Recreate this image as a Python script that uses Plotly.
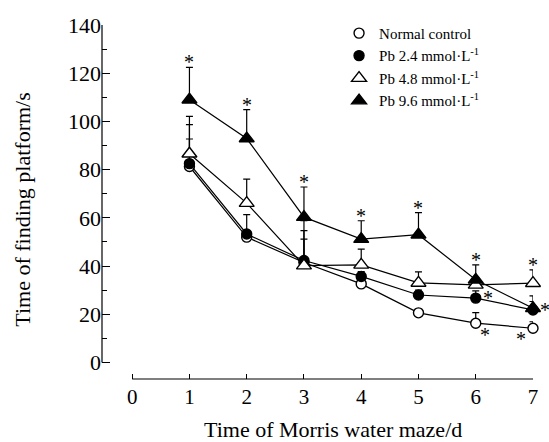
import plotly.graph_objects as go

# ---------------- data ----------------
days = [1, 2, 3, 4, 5, 6, 7]
series_names = ["Normal control", "Pb 2.4 mmol·L<sup>-1</sup>",
                "Pb 4.8 mmol·L<sup>-1</sup>", "Pb 9.6 mmol·L<sup>-1</sup>"]
normal = [81.3, 52.0, 41.5, 32.6, 20.6, 16.3, 14.2]
normal_sd = [11.4, 2.0, 9.7, 2.0, 1.5, 4.4, 2.7]
pb24 = [82.5, 53.3, 42.3, 35.7, 28.0, 26.7, 21.8]
pb24_sd = [16.2, 8.0, 12.4, 2.0, 2.0, 3.0, 3.5]
pb48 = [86.6, 66.1, 40.2, 40.5, 33.0, 32.2, 32.9]
pb48_sd = [15.5, 10.0, 18.6, 6.5, 4.6, 3.0, 5.5]
pb96 = [109.0, 92.9, 60.3, 51.2, 53.0, 34.3, 22.5]
pb96_sd = [13.4, 12.0, 12.5, 7.6, 9.2, 6.2, 5.1]

x_ticks = [0, 1, 2, 3, 4, 5, 6, 7]
y_ticks = [0, 20, 40, 60, 80, 100, 120, 140]

# significance marks: (series index, day, placement)
sig_marks = [(3, 1, "above"), (3, 2, "above"), (3, 3, "above"), (3, 4, "above"),
             (3, 5, "above"), (3, 6, "above"), (2, 7, "above"),
             (1, 6, "right"), (0, 6, "right-low"),
             (1, 7, "right"), (0, 7, "left-low")]

# ---------------- figure ----------------
FONT = "Liberation Serif, Times New Roman, serif"
values = [normal, pb24, pb48, pb96]
sds = [normal_sd, pb24_sd, pb48_sd, pb96_sd]
symbols = ["circle", "circle", "triangle-up", "triangle-up"]
fills = ["white", "black", "white", "black"]
sizes = [10, 10, 13, 13]

fig = go.Figure()
for v, sd, sym, fc, sz in zip(values, sds, symbols, fills, sizes):
    fig.add_trace(go.Scatter(
        x=days, y=v, mode="lines+markers", showlegend=False,
        line=dict(color="black", width=1.2),
        marker=dict(symbol=sym, size=sz, color=fc,
                    line=dict(color="black", width=1.4)),
        error_y=dict(type="data", symmetric=False, array=sd,
                     arrayminus=[0] * len(sd), color="black",
                     thickness=1.2, width=3.5),
        cliponaxis=False,
    ))

for name, sym, fc, sz in zip(series_names, symbols, fills, sizes):
    fig.add_trace(go.Scatter(
        x=[None], y=[None], mode="markers", name=name,
        marker=dict(symbol=sym, size=sz, color=fc,
                    line=dict(color="black", width=1.4)),
    ))

offsets = {"above": (0, 9), "right": (12, 4), "right-low": (9, -8),
           "left-low": (-12, -7)}
for si, d, place in sig_marks:
    i = days.index(d)
    yv = values[si][i] + (sds[si][i] if place == "above" else 0)
    dx, dy = offsets[place]
    fig.add_annotation(x=d, y=yv, xref="x", yref="y", text="*",
                       showarrow=False, xshift=dx, yshift=dy - 4,
                       xanchor="center", yanchor="middle",
                       font=dict(family=FONT, size=20, color="black"))

# axis lines drawn only over the data extent (as in the reference)
fig.add_shape(type="line", xref="paper", yref="y", x0=0, x1=0, y0=0, y1=140,
              line=dict(color="black", width=1.2))
fig.add_shape(type="line", xref="x", yref="paper", x0=0, x1=7, y0=0, y1=0,
              line=dict(color="black", width=1.2))

fig.add_annotation(text="Time of Morris water maze/d", xref="paper", yref="paper",
                   x=0.536, y=-0.143, showarrow=False, xanchor="center",
                   yanchor="middle", font=dict(family=FONT, size=22, color="black"))
fig.add_annotation(text="Time of finding platform/s", xref="paper", yref="paper",
                   x=-0.1835, y=0.478, showarrow=False, textangle=-90,
                   xanchor="center", yanchor="middle",
                   font=dict(family=FONT, size=22, color="black"))

fig.update_layout(
    width=549, height=442,
    margin=dict(l=102, r=11, t=25, b=63),
    paper_bgcolor="white", plot_bgcolor="white",
    font=dict(family=FONT, color="black"),
    legend=dict(x=0.55, y=1.023, xanchor="left", yanchor="top",
                bgcolor="rgba(0,0,0,0)", font=dict(family=FONT, size=15),
                tracegroupgap=0),
    xaxis=dict(range=[-0.527, 7], tickvals=x_ticks, ticks="inside", ticklen=5,
               tickwidth=1.2, tickcolor="black", showline=False, showgrid=False,
               zeroline=False, tickfont=dict(family=FONT, size=21),
               ticklabelstandoff=3),
    yaxis=dict(range=[-6.85, 140], tickvals=y_ticks, ticks="inside", ticklen=8,
               tickwidth=1.2, tickcolor="black", showline=False, showgrid=False,
               zeroline=False, tickfont=dict(family=FONT, size=22),
               minor=dict(dtick=10, ticks="inside", ticklen=5, tickwidth=1.2,
                          tickcolor="black")),
)

fig.write_html("out.html", config={"displayModeBar": False},
               post_script="document.body.style.margin='0';"
                           "document.body.style.overflow='hidden';")
